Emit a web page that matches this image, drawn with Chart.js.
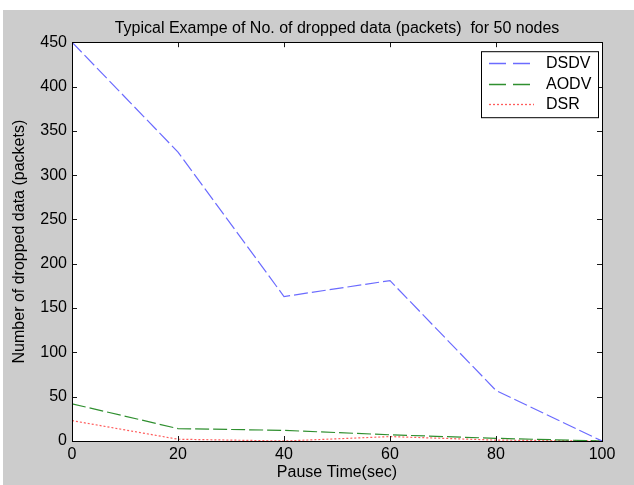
<!DOCTYPE html>
<html lang="en">
<head>
    <meta charset="UTF-8">
    <title>Dropped data for 50 nodes</title>
    <script src="https://cdn.jsdelivr.net/npm/chart.js"></script>
    <style>
        html, body {
            margin: 0;
            padding: 0;
            background-color: #ffffff;
        }
        #wrap {
            position: relative;
            width: 634px;
            height: 485px;
        }
    </style>
</head>
<body>
    <div id="wrap">
        <canvas id="droppedChart" width="634" height="485"></canvas>
    </div>

    <script>
        // values
        const pauseTimes = [0, 20, 40, 60, 80, 100];
        const dsdvDropped = [450, 326, 163, 181, 57, 0];
        const aodvDropped = [42, 14, 12, 7, 3, 0];
        const dsrDropped = [23, 2, 0, 5, 1, 0];
        const xTicks = [0, 20, 40, 60, 80, 100];
        const yTicks = [0, 50, 100, 150, 200, 250, 300, 350, 400, 450];

        const font = 'Arial, "Liberation Sans", sans-serif';

        function toPoints(values) {
            return pauseTimes.map((x, i) => ({ x: x, y: values[i] }));
        }

        // grey figure background like the matlab window
        const figureBg = {
            id: 'figureBg',
            beforeDraw(chart) {
                const ctx = chart.ctx;
                ctx.save();
                ctx.fillStyle = '#ffffff';
                ctx.fillRect(0, 0, chart.width, chart.height);
                ctx.fillStyle = '#cccccc';
                ctx.fillRect(3, 10, chart.width - 3, chart.height - 10);
                const a = chart.chartArea;
                ctx.fillStyle = '#ffffff';
                ctx.fillRect(a.left, a.top, a.right - a.left, a.bottom - a.top);
                ctx.restore();
            }
        };

        // box around the axes plus inward ticks on all four sides
        const axesBox = {
            id: 'axesBox',
            afterDatasetsDraw(chart) {
                const ctx = chart.ctx;
                const a = chart.chartArea;
                const xs = chart.scales.x;
                const ys = chart.scales.y;
                ctx.save();
                ctx.strokeStyle = '#1a1a1a';
                ctx.lineWidth = 1;
                ctx.beginPath();
                xTicks.forEach(v => {
                    const px = Math.round(xs.getPixelForValue(v)) + 0.5;
                    ctx.moveTo(px, a.bottom);
                    ctx.lineTo(px, a.bottom - 5);
                    ctx.moveTo(px, a.top);
                    ctx.lineTo(px, a.top + 5);
                });
                yTicks.forEach(v => {
                    const py = Math.round(ys.getPixelForValue(v)) + 0.5;
                    ctx.moveTo(a.left, py);
                    ctx.lineTo(a.left + 5, py);
                    ctx.moveTo(a.right, py);
                    ctx.lineTo(a.right - 5, py);
                });
                ctx.stroke();
                ctx.strokeStyle = '#000000';
                ctx.strokeRect(Math.round(a.left) + 0.5, Math.round(a.top) + 0.5,
                    Math.round(a.right - a.left), Math.round(a.bottom - a.top));
                ctx.restore();
            }
        };

        // legend box in the upper right corner
        const boxLegend = {
            id: 'boxLegend',
            afterDraw(chart) {
                const ctx = chart.ctx;
                const a = chart.chartArea;
                const w = 117, h = 66;
                const left = a.right - 4 - w;
                const top = a.top + 9;
                ctx.save();
                ctx.fillStyle = '#ffffff';
                ctx.fillRect(left, top, w, h);
                ctx.strokeStyle = '#000000';
                ctx.lineWidth = 1;
                ctx.strokeRect(left + 0.5, top + 0.5, w, h);
                ctx.font = '16px ' + font;
                ctx.textBaseline = 'middle';
                chart.data.datasets.forEach((ds, i) => {
                    const y = Math.round(top + 12 + i * 20.5) + 0.5;
                    ctx.strokeStyle = ds.borderColor;
                    ctx.lineWidth = 1.3;
                    ctx.setLineDash(ds.legendDash);
                    ctx.beginPath();
                    ctx.moveTo(left + 8, y);
                    ctx.lineTo(left + 53, y);
                    ctx.stroke();
                    ctx.setLineDash([]);
                    ctx.fillStyle = '#000000';
                    ctx.fillText(ds.label, left + 65, y);
                });
                ctx.restore();
            }
        };

        const ctx = document.getElementById('droppedChart').getContext('2d');
        new Chart(ctx, {
            type: 'line',
            data: {
                datasets: [{
                    label: 'DSDV',
                    data: toPoints(dsdvDropped),
                    borderColor: '#6b6bff',
                    borderWidth: 1.2,
                    borderDash: [14, 4],
                    legendDash: [17, 7],
                    pointRadius: 0,
                    tension: 0
                }, {
                    label: 'AODV',
                    data: toPoints(aodvDropped),
                    borderColor: '#2f8f2f',
                    borderWidth: 1.2,
                    borderDash: [14, 4],
                    legendDash: [17, 7],
                    pointRadius: 0,
                    tension: 0
                }, {
                    label: 'DSR',
                    data: toPoints(dsrDropped),
                    borderColor: '#ff5c5c',
                    borderWidth: 1.2,
                    borderDash: [2, 2],
                    legendDash: [2, 2],
                    pointRadius: 0,
                    tension: 0
                }]
            },
            options: {
                responsive: false,
                animation: false,
                layout: {
                    padding: { left: 0, right: 32, top: 0, bottom: 0 }
                },
                plugins: {
                    legend: { display: false },
                    tooltip: { enabled: false },
                    title: {
                        display: true,
                        fullSize: false,
                        text: 'Typical Exampe of No. of dropped data (packets)  for 50 nodes',
                        color: '#000000',
                        font: { family: font, size: 16, weight: 'normal' },
                        padding: { top: 19, bottom: 4 }
                    }
                },
                scales: {
                    x: {
                        type: 'linear',
                        min: 0,
                        max: 100,
                        afterBuildTicks: scale => {
                            scale.ticks = xTicks.map(v => ({ value: v }));
                        },
                        afterFit: scale => { scale.height = 44; },
                        grid: { display: false, drawTicks: false },
                        border: { display: false },
                        ticks: {
                            color: '#000000',
                            padding: 4,
                            maxRotation: 0,
                            font: { family: font, size: 16 }
                        },
                        title: {
                            display: true,
                            text: 'Pause Time(sec)',
                            color: '#000000',
                            font: { family: font, size: 16 },
                            padding: { top: 0, bottom: 3 }
                        }
                    },
                    y: {
                        type: 'linear',
                        min: 0,
                        max: 450,
                        afterBuildTicks: scale => {
                            scale.ticks = yTicks.map(v => ({ value: v }));
                        },
                        afterFit: scale => { scale.width = 72; },
                        grid: { display: false, drawTicks: false },
                        border: { display: false },
                        ticks: {
                            color: '#000000',
                            padding: 5,
                            font: { family: font, size: 16 }
                        },
                        title: {
                            display: true,
                            text: 'Number of dropped data (packets)',
                            color: '#000000',
                            font: { family: font, size: 16 },
                            padding: { top: 10, bottom: 0 }
                        }
                    }
                }
            },
            plugins: [figureBg, axesBox, boxLegend]
        });
    </script>
</body>
</html>
